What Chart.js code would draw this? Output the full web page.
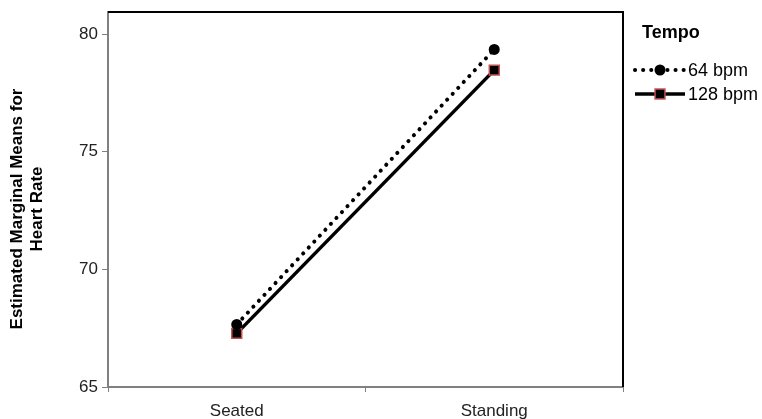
<!DOCTYPE html>
<html>
<head>
<meta charset="utf-8">
<script src="https://cdn.jsdelivr.net/npm/chart.js@4"></script>
<style>
  html, body { margin: 0; padding: 0; background: #fff; }
  #wrap { width: 762px; height: 419px; position: relative; }
</style>
</head>
<body>
<div id="wrap"><canvas id="chart"></canvas></div>
<script>
const categories = ['Seated', 'Standing'];
const tempo64 = [67.66, 79.35];
const tempo128 = [67.28, 78.47];
const seriesNames = ['64 bpm', '128 bpm'];
const yTicks = [65, 70, 75, 80];
const yTitle = ['Estimated Marginal Means for', 'Heart Rate'];
const legendTitle = 'Tempo';

const FONT = "'Liberation Sans', Arial, sans-serif";

// frame on top/right, y title and a hand drawn legend
const framePlugin = {
  id: 'frame',
  afterDraw(chart) {
    const { ctx, chartArea: a } = chart;
    ctx.save();
    ctx.strokeStyle = '#000';
    ctx.lineWidth = 2;
    ctx.beginPath();
    ctx.moveTo(a.left, a.top);
    ctx.lineTo(a.right, a.top);
    ctx.lineTo(a.right, a.bottom);
    ctx.stroke();

    // y title, rotated
    ctx.save();
    ctx.translate(0, 209);
    ctx.rotate(-Math.PI / 2);
    ctx.fillStyle = '#000';
    ctx.font = 'bold 17px ' + FONT;
    ctx.textAlign = 'center';
    ctx.textBaseline = 'middle';
    ctx.fillText(yTitle[0], 0, 17);
    ctx.fillText(yTitle[1], 0, 37);
    ctx.restore();

    // legend
    ctx.fillStyle = '#000';
    ctx.textBaseline = 'middle';
    ctx.font = 'bold 18px ' + FONT;
    ctx.fillText(legendTitle, 642, 33);
    chart.data.datasets.forEach((ds, i) => {
      const y = 70 + i * 24;
      ctx.beginPath();
      ctx.strokeStyle = ds.borderColor;
      ctx.lineWidth = ds.borderWidth;
      ctx.lineCap = ds.borderCapStyle || 'butt';
      ctx.setLineDash(ds.borderDash || []);
      ctx.moveTo(635, y);
      ctx.lineTo(685, y);
      ctx.stroke();
      ctx.setLineDash([]);
      ctx.lineCap = 'butt';
      ctx.fillStyle = ds.pointBackgroundColor;
      ctx.strokeStyle = ds.pointBorderColor;
      ctx.lineWidth = ds.pointBorderWidth;
      ctx.beginPath();
      if (ds.pointStyle === 'circle') {
        ctx.arc(660, y, ds.pointRadius, 0, Math.PI * 2);
        ctx.fill();
      } else {
        const r = ds.pointRadius * Math.SQRT1_2;
        ctx.fillRect(660 - r, y - r, 2 * r, 2 * r);
        ctx.strokeRect(660 - r, y - r, 2 * r, 2 * r);
      }
      ctx.fillStyle = '#000';
      ctx.font = '18px ' + FONT;
      ctx.fillText(seriesNames[i], 688, y + 1);
    });
    ctx.restore();
  }
};

new Chart(document.getElementById('chart'), {
  type: 'line',
  data: {
    labels: categories,
    datasets: [
      {
        label: seriesNames[0],
        data: tempo64,
        borderColor: '#000',
        borderWidth: 4,
        borderDash: [0.1, 8],
        borderCapStyle: 'round',
        pointStyle: 'circle',
        pointRadius: 5.5,
        pointBackgroundColor: '#000',
        pointBorderColor: '#000',
        pointBorderWidth: 0,
        tension: 0
      },
      {
        label: seriesNames[1],
        data: tempo128,
        borderColor: '#000',
        borderWidth: 3.5,
        pointStyle: 'rect',
        pointRadius: 7,
        pointBackgroundColor: '#000',
        pointBorderColor: '#c0504d',
        pointBorderWidth: 1.5,
        tension: 0
      }
    ]
  },
  options: {
    responsive: true,
    maintainAspectRatio: false,
    animation: false,
    layout: { padding: { top: 12, right: 139, left: 0, bottom: 0 } },
    plugins: {
      legend: { display: false },
      tooltip: { enabled: false }
    },
    scales: {
      x: {
        type: 'category',
        offset: true,
        afterFit: (s) => { s.height = 32; },
        grid: {
          offset: true,
          drawOnChartArea: false,
          tickLength: 5,
          color: '#808080'
        },
        border: { color: '#808080', width: 2 },
        ticks: {
          color: '#222',
          font: { family: FONT, size: 17 },
          padding: 9
        }
      },
      y: {
        min: 65,
        max: 80.94,
        afterBuildTicks: (s) => { s.ticks = yTicks.map(v => ({ value: v })); },
        afterFit: (s) => { s.width = 108; s.paddingTop = 0; s.paddingBottom = 0; },
        grid: {
          drawOnChartArea: false,
          tickLength: 6,
          color: '#808080'
        },
        border: { color: '#808080', width: 2 },
        ticks: {
          color: '#222',
          font: { family: FONT, size: 17 },
          padding: 4
        }
      }
    }
  },
  plugins: [framePlugin]
});
</script>
</body>
</html>
